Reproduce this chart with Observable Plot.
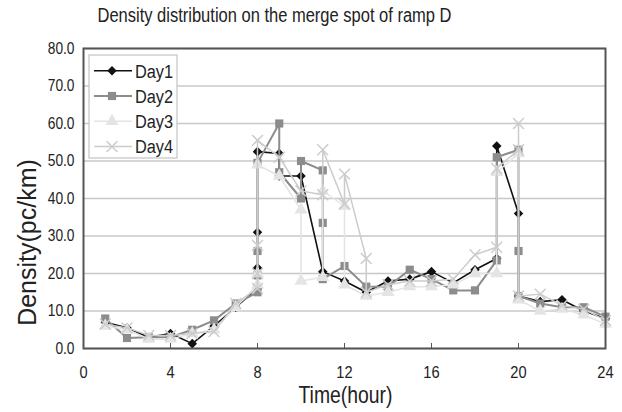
<!DOCTYPE html>
<html><head><meta charset="utf-8">
<script src="https://cdn.jsdelivr.net/npm/d3@7"></script>
<script src="https://cdn.jsdelivr.net/npm/@observablehq/plot@0.6"></script>
<style>
html,body{margin:0;padding:0;background:#fff;}
#chart{width:622px;height:412px;}
</style></head><body><div id="chart"></div>
<script>
const seriesNames = ["Day1", "Day2", "Day3", "Day4"];
const day1Hours = [1,2,3,4,5,6,7,8,8,8,8,9,9,10,11,12,13,14,15,16,17,18,19,19,20,20,21,22,23,24];
const day1Values = [7,5.5,3,4,1.3,6,11,16,21.5,31,52.5,52,46,46,20.5,18,15,18,18.5,20.5,17.5,21,24,54,36,14,12.5,13,10,8];
const day2Hours = [1,2,3,4,5,6,7,8,8,8,8,9,9,10,10,11,11,11,12,13,14,15,16,17,18,19,19,20,20,20,21,22,23,24];
const day2Values = [8,2.8,3,3,5,7.5,12,15,19.5,26,49.5,60,47,40,50,47.5,33.5,18.5,22,16.5,16.5,21,18.5,15.5,15.5,23.5,51,53,26,14,12,11,11,8.5];
const day3Hours = [1,2,3,4,5,6,7,8,8,8,9,10,10,11,11,12,12,13,14,15,16,17,18,19,19,20,20,21,22,23,24];
const day3Values = [6,5,2.5,2.5,4,5,11,17,20,49,46,37,18,19,42,38,17,14,15,16.5,16.5,17,20,20,47,52,13,10,10.5,9,6.5];
const day4Hours = [1,2,3,4,5,6,7,8,8,8,8,9,10,11,11,12,12,13,13,14,15,16,17,18,19,19,20,20,20,21,22,23,24];
const day4Values = [6.5,5.5,3.5,3.5,4,4.5,12,16,20,27.5,55.5,51,42,41,53,38.5,46.5,24,15,17,18,18,18.5,25,27,48,53,60,14,14.5,11.5,10.5,7.5];
const xTicks = [0, 4, 8, 12, 16, 20, 24];
const yTicks = [0, 10, 20, 30, 40, 50, 60, 70, 80];
const titleText = "Density distribution on the merge spot of ramp D";
const xLabel = "Time(hour)";
const yLabel = "Density(pc/km)";

const font = "'Liberation Sans',Arial,sans-serif";

const looks = {
  Day1: {color: "#111111", fill: "#111111", symbol: "diamond2", d3sym: d3.symbolDiamond2, r: 4.3, lw: 1.6, dotStroke: "none"},
  Day2: {color: "#8c8c8c", fill: "#8c8c8c", symbol: "square", d3sym: d3.symbolSquare, r: 4.6, lw: 2, dotStroke: "none"},
  Day3: {color: "#e4e4e4", fill: "#e4e4e4", symbol: "triangle", d3sym: d3.symbolTriangle, r: 4.8, lw: 1.5, dotStroke: "none"},
  Day4: {color: "#cccccc", fill: "none", symbol: "times", d3sym: d3.symbolTimes, r: 5, lw: 1.5, dotStroke: "#cccccc"}
};

const series = [
  {name: seriesNames[0], hours: day1Hours, values: day1Values},
  {name: seriesNames[1], hours: day2Hours, values: day2Values},
  {name: seriesNames[2], hours: day3Hours, values: day3Values},
  {name: seriesNames[3], hours: day4Hours, values: day4Values}
];

const seriesMarks = series.flatMap(s => {
  const rows = s.hours.map((h, i) => ({hour: h, value: s.values[i], day: s.name}));
  const lk = looks[s.name];
  return [
    Plot.line(rows, {x: "hour", y: "value", stroke: lk.color, strokeWidth: lk.lw}),
    Plot.dot(rows, {x: "hour", y: "value", symbol: lk.symbol, r: lk.r, fill: lk.fill, stroke: lk.dotStroke, strokeWidth: 1.5})
  ];
});

const chart = Plot.plot({
  width: 622,
  height: 412,
  marginLeft: 83,
  marginRight: 17,
  marginTop: 48,
  marginBottom: 64,
  style: {fontFamily: font, background: "#fff", color: "#222"},
  x: {domain: [0, 24]},
  y: {domain: [0, 80]},
  marks: [
    Plot.gridY(yTicks, {stroke: "#c8c8c8", strokeOpacity: 1, strokeWidth: 1.5}),
    Plot.axisY(yTicks, {tickSize: 0, tickPadding: 9, tickFormat: d3.format(".1f"), fontSize: 16, fill: "#222", label: null}),
    Plot.axisX(xTicks, {tickSize: -5, tickPadding: 22, fontSize: 17, fill: "#222", stroke: "#555", label: null}),
    ...seriesMarks,
    Plot.frame({stroke: "#555", strokeWidth: 2}),
    Plot.text([titleText], {text: d => d, frameAnchor: "top-left", dx: 14, dy: -27, textAnchor: "start", lineAnchor: "bottom", fontSize: 20, fill: "#222"}),
    Plot.text([xLabel], {text: d => d, frameAnchor: "bottom-left", dx: 215, dy: 54, textAnchor: "start", lineAnchor: "bottom", fontSize: 24, fill: "#222"}),
    Plot.text([yLabel], {text: d => d, frameAnchor: "left", dx: -56, dy: 44, rotate: -90, textAnchor: "middle", lineAnchor: "middle", fontSize: 25, fill: "#222"})
  ]
});

// legend box (Excel style)
const svg = d3.select(chart);
const lg = svg.append("g").attr("text-anchor", "start");
lg.append("rect").attr("x", 89).attr("y", 55).attr("width", 88).attr("height", 103)
  .attr("fill", "#fff").attr("stroke", "#c4c4c4").attr("stroke-width", 1.2);
seriesNames.forEach((name, i) => {
  const lk = looks[name];
  const cy = 70.7 + i * 25.3;
  lg.append("line").attr("x1", 94).attr("x2", 132).attr("y1", cy).attr("y2", cy)
    .attr("stroke", lk.color).attr("stroke-width", lk.lw);
  lg.append("path").attr("transform", `translate(112,${cy})`)
    .attr("d", d3.symbol(lk.d3sym, Math.PI * lk.r * lk.r)())
    .attr("fill", lk.fill).attr("stroke", lk.dotStroke).attr("stroke-width", 1.5);
  lg.append("text").attr("transform", `translate(135,${cy + 6.8})`).attr("font-size", 19)
    .attr("font-family", font).attr("fill", "#222").text(name);
});

document.getElementById("chart").appendChild(chart);

// the reference uses a narrow face: fix title / x label widths, condense the rest about their anchor
const fixedWidths = {[titleText]: 354, [xLabel]: 94};
svg.selectAll("text").each(function() {
  const txt = this.textContent;
  if (txt === yLabel) return;
  if (fixedWidths[txt]) {
    this.setAttribute("textLength", fixedWidths[txt]);
    this.setAttribute("lengthAdjust", "spacingAndGlyphs");
    return;
  }
  const t = this.getAttribute("transform") || "";
  this.setAttribute("transform", `${t} scale(0.86,1)`);
});
</script></body></html>
